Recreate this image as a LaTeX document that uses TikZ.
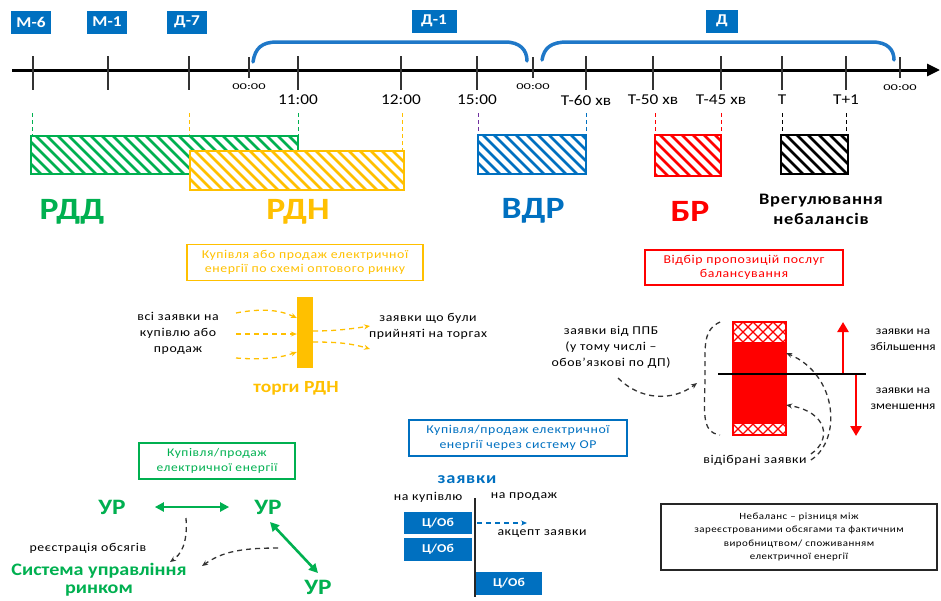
\documentclass[tikz,border=0pt]{standalone}
\usepackage{fontspec}
\setmainfont{Carlito}[FakeStretch=1.15]
\newfontfamily\wide{Carlito}[FakeStretch=1.15,LetterSpace=5]
\usetikzlibrary{arrows.meta,calc}
\definecolor{cgreen}{HTML}{00B050}
\definecolor{cyellow}{HTML}{FFC000}
\definecolor{cblue}{HTML}{0070C0}
\definecolor{cbrk}{HTML}{1F78C8}
\definecolor{cred}{HTML}{FF0000}
\definecolor{cpurple}{HTML}{7030A0}
\newcommand\hatchbar[5]{%
  \fill[white] (#1,#2) rectangle (#3,#4);
  \begin{scope}
    \clip (#1,#2) rectangle (#3,#4);
    \foreach \i in {0,...,40} {\draw[#5,line width=2.6pt] ({#1-50+\i*11},#2) -- ++(55,55);}
  \end{scope}
  \draw[#5,line width=1.2pt] (#1,#2) rectangle (#3,#4);
}
\newcommand\crossbar[4]{%
  \fill[white] (#1,#2) rectangle (#3,#4);
  \begin{scope}
    \clip (#1,#2) rectangle (#3,#4);
    \foreach \i in {0,...,12} {\draw[cred,line width=1.3pt] ({#1-30+\i*10},#2) -- ++(30,30);
      \draw[cred,line width=1.3pt] ({#1-30+\i*10},#2) -- ++(-30,30);}
  \end{scope}
}
\begin{document}
\begin{tikzpicture}[x=1pt,y=-1pt,
  tag/.style={fill=cblue,text=white,font=\bfseries\fontsize{15}{16}\selectfont,minimum width=40,minimum height=23,inner sep=0},
  tickl/.style={line width=1.3pt,draw=black!80},
  tlab/.style={font=\fontsize{15}{16}\selectfont,inner sep=0},
  zero/.style={font=\fontsize{9}{10}\selectfont,inner sep=0,xscale=1.4},
  guide/.style={line width=1pt,dash pattern=on 4pt off 3pt},
  big/.style={font=\bfseries\fontsize{31}{33}\selectfont,inner sep=0},
  mid/.style={font=\bfseries\fontsize{17}{19}\selectfont,inner sep=0,align=center},
  sm/.style={font=\wide\fontsize{12}{16}\selectfont,inner sep=0,align=center},
  frame/.style={draw,line width=1.2pt,minimum height=36,inner sep=0,align=center,font=\wide\fontsize{12}{14.5}\selectfont},
  ydash/.style={cyellow,line width=1.3pt,dash pattern=on 5pt off 4pt,-{Stealth[length=6pt,width=5pt]}},
  kdash/.style={black!80,line width=1.3pt,dash pattern=on 5pt off 4pt,-{Stealth[length=6pt,width=5pt]}},
  ob/.style={fill=cblue,text=white,font=\bfseries\fontsize{12}{13}\selectfont,inner sep=0}
]
\useasboundingbox (0,0) rectangle (941,600);
% timeline
\draw[line width=3pt,-{Triangle[length=13pt,width=12pt]}] (12,70) -- (940,70);
\foreach \x in {33,108,189,298,401,477,586,653,721,782,846} {\draw[tickl] (\x,56) -- (\x,90);}
\foreach \x in {249,533,900} {\draw[tickl] (\x,57) -- (\x,78);}
\node[tag] (m6) at (31,22) {М-6};
\node[tag] (m1) at (107,22) {М-1};
\node[tag] (d7) at (187,22) {Д-7};
\node[tag,minimum width=45] (d1) at (434,21) {Д-1};
\node[tag,minimum width=32] (dd) at (722,21) {Д};
\draw[cbrk,line width=3.5pt,line cap=round] (253,62) .. controls (255,48) and (262,42) .. (277,42) -- (505,42) .. controls (520,42) and (527,50) .. (527,61);
\draw[cbrk,line width=3.5pt,line cap=round] (542,60) .. controls (544,48) and (551,42) .. (567,42) -- (872,42) .. controls (888,42) and (894,50) .. (894,60);
\node[zero] (z1) at (249,87) {00:00};
\node[zero] (z2) at (533,87) {00:00};
\node[zero] (z3) at (900,88) {00:00};
\node[tlab] (t11) at (298,100) {11:00};
\node[tlab] (t12) at (401,100) {12:00};
\node[tlab] (t15) at (477,100) {15:00};
\node[tlab] (t60) at (586,100) {Т-60 хв};
\node[tlab] (t50) at (653,100) {Т-50 хв};
\node[tlab] (t45) at (721,100) {Т-45 хв};
\node[tlab] (tt) at (782,100) {Т};
\node[tlab] (tp) at (846,100) {Т+1};
% guides
\draw[guide,cgreen] (32,113) -- (32,136);
\draw[guide,cgreen] (298,113) -- (298,136);
\draw[guide,cyellow] (189,113) -- (189,151);
\draw[guide,cyellow] (402,113) -- (402,151);
\draw[guide,cpurple] (478,113) -- (478,135);
\draw[guide,cblue] (586,113) -- (586,135);
\draw[guide,cred] (655,113) -- (655,135);
\draw[guide,cred] (721,113) -- (721,135);
\draw[guide,black] (782,113) -- (782,135);
\draw[guide,black] (846,113) -- (846,135);
% bars
\hatchbar{31}{136}{298}{174}{cgreen}
\hatchbar{190}{151}{404}{190}{cyellow}
\hatchbar{478}{135}{586}{174}{cblue}
\hatchbar{655}{135}{721}{176}{cred}
\hatchbar{781}{135}{848}{174}{black}
\node[big,text=cgreen] (rdd) at (72,212) {РДД};
\node[big,text=cyellow] (rdn) at (298,212) {РДН};
\node[big,text=cblue] (vdr) at (533,211) {ВДР};
\node[big,text=cred] (br) at (690,211) {БР};
\node[mid,font=\wide\bfseries\fontsize{16}{20}\selectfont] (vreg) at (821,209) {Врегулювання\\небалансів};
% RDN block
\node[frame,draw=cyellow,text=cyellow,minimum width=236] (ybox) at (305,262.5) {Купівля або продаж електричної\\енергії по схемі оптового ринку};
\node[fill=cyellow,minimum width=16,minimum height=71,inner sep=0] (ybar) at (305,332.5) {};
\node[sm] (allreq) at (178,333) {всі заявки на\\купівлю або\\продаж};
\node[sm] (acc) at (428,326) {заявки що були\\прийняті  на торгах};
\node[mid,text=cyellow] (torgi) at (296,388) {торги РДН};
\coordinate (ya1) at (236,313); \coordinate (ya2) at (236,334); \coordinate (ya3) at (236,358);
\coordinate (yb1) at (370,326); \coordinate (yb2) at (370,349);
\draw[ydash] (ya1) .. controls (262,308) and (280,310) .. (ybar.west |- 0,318);
\draw[ydash] (ya2) -- (ybar.west |- 0,334);
\draw[ydash] (ya3) .. controls (262,360) and (280,358) .. (ybar.west |- 0,352);
\draw[ydash] (ybar.east |- 0,331) .. controls (335,331) and (350,329) .. (yb1);
\draw[ydash] (ybar.east |- 0,342) .. controls (335,342) and (350,343) .. (yb2);
% BR block
\node[frame,draw=cred,text=cred,minimum width=198,minimum height=35] (rbox) at (744,267.5) {Відбір пропозицій  послуг\\балансування};
\fill[cred] (733,322) rectangle (786,435);
\crossbar{733}{322}{786}{342}
\crossbar{733}{424}{786}{435}
\draw[cred,line width=1.2pt] (733,322) rectangle (786,435);
\node[inner sep=0,minimum width=53,minimum height=113] (rbar) at (759.5,378.5) {};
\coordinate (hl1) at (718,374); \coordinate (hl2) at (866,374);
\draw[line width=1.3pt] (hl1) -- (hl2);
\coordinate (up0) at (843,373); \coordinate (up1) at (843,322);
\coordinate (dn0) at (856,375); \coordinate (dn1) at (856,436);
\draw[cred,line width=2.6pt,-{Triangle[length=10pt,width=11pt]}] (up0) -- (up1);
\draw[cred,line width=2.6pt,-{Triangle[length=10pt,width=11pt]}] (dn0) -- (dn1);
\node[sm,font=\fontsize{11.5}{16}\selectfont] (zb) at (903,340) {заявки на\\збільшення};
\node[sm,font=\fontsize{11.5}{16}\selectfont] (zm) at (903,399) {заявки на\\зменшення};
\node[sm] (ppb) at (611,347) {заявки від ППБ\\(у тому числі –\\обов’язкові по ДП)};
\draw[black!80,line width=1.3pt,dash pattern=on 5pt off 4pt] (720,322) .. controls (703,330) and (705,345) .. (705,375) .. controls (705,410) and (700,432) .. (720,435);
\coordinate (ppbs) at (618,378);
\draw[kdash] (ppbs) .. controls (640,400) and (672,402) .. (697,383);
\node[sm] (sel) at (755,460) {відібрані заявки};
\draw[kdash] (sel.east) ++(4,0) .. controls (842,440) and (838,375) .. (rbar.east |- 0,353);
\draw[kdash] (sel.east) ++(4,-6) .. controls (832,440) and (828,412) .. (rbar.east |- 0,405);
% OR block
\node[frame,draw=cblue,text=cblue,minimum width=218] (obox) at (518,438) {Купівля/продаж електричної\\енергії через систему  ОР};
\node[mid,text=cblue,font=\wide\bfseries\fontsize{16}{18}\selectfont] (zay) at (467,480) {заявки};
\node[sm] (nk) at (428,497) {на купівлю};
\node[sm] (np) at (524,497) {на продаж};
\coordinate (vl1) at (475,498); \coordinate (vl2) at (475,597);
\draw[line width=1.5pt,black!85] (vl1) -- (vl2);
\node[ob,minimum width=68,minimum height=22] (c1) at (438,523) {Ц/Об};
\node[ob,minimum width=68,minimum height=23] (c2) at (438,549) {Ц/Об};
\node[ob,minimum width=66,minimum height=23] (c3) at (509,583.5) {Ц/Об};
\coordinate (acc1) at (527,523);
\draw[cblue,line width=1.3pt,dash pattern=on 5pt off 4pt,-{Stealth[length=6pt,width=5pt]}] (c1.east) ++(5,0) -- (acc1);
\node[sm] (akc) at (542,534) {акцепт заявки};
% imbalance
\node[draw=black!85,line width=2pt,minimum width=276,minimum height=66,inner sep=0,align=center,font=\wide\fontsize{9.5}{13.5}\selectfont] (imb) at (799,537) {Небаланс – різниця  між\\зареєстрованими  обсягами та фактичним\\виробництвом/  споживанням\\електричної енергії};
% UR block
\node[frame,draw=cgreen,text=cgreen,minimum width=156,font=\wide\fontsize{11.7}{14.5}\selectfont] (gbox) at (217,461) {Купівля/продаж\\електричної енергії};
\node[big,text=cgreen,font=\bfseries\fontsize{22}{24}\selectfont] (ur1) at (112,507) {УР};
\node[big,text=cgreen,font=\bfseries\fontsize{22}{24}\selectfont] (ur2) at (268,507) {УР};
\node[big,text=cgreen,font=\bfseries\fontsize{22}{24}\selectfont] (ur3) at (318,587) {УР};
\draw[cgreen,line width=2.6pt,{Triangle[length=9pt,width=9pt]}-{Triangle[length=9pt,width=9pt]}] ($(ur1.east)+(29,0)$) -- ($(ur2.west)+(-25,0)$);
\draw[cgreen,line width=2.6pt,{Triangle[length=9pt,width=9pt]}-{Triangle[length=9pt,width=9pt]}] (270,522) -- (318,573);
\node[sm] (reg) at (88,548) {реєстрація обсягів};
\node[mid,text=cgreen,font=\bfseries\fontsize{17.5}{18}\selectfont] (sys) at (99,580) {Система управління\\ринком};
\draw[kdash] (186,518) .. controls (188,545) and (180,555) .. (170,562);
\draw[kdash] (278,548) .. controls (240,548) and (222,552) .. (202,566);
\end{tikzpicture}
\end{document}
